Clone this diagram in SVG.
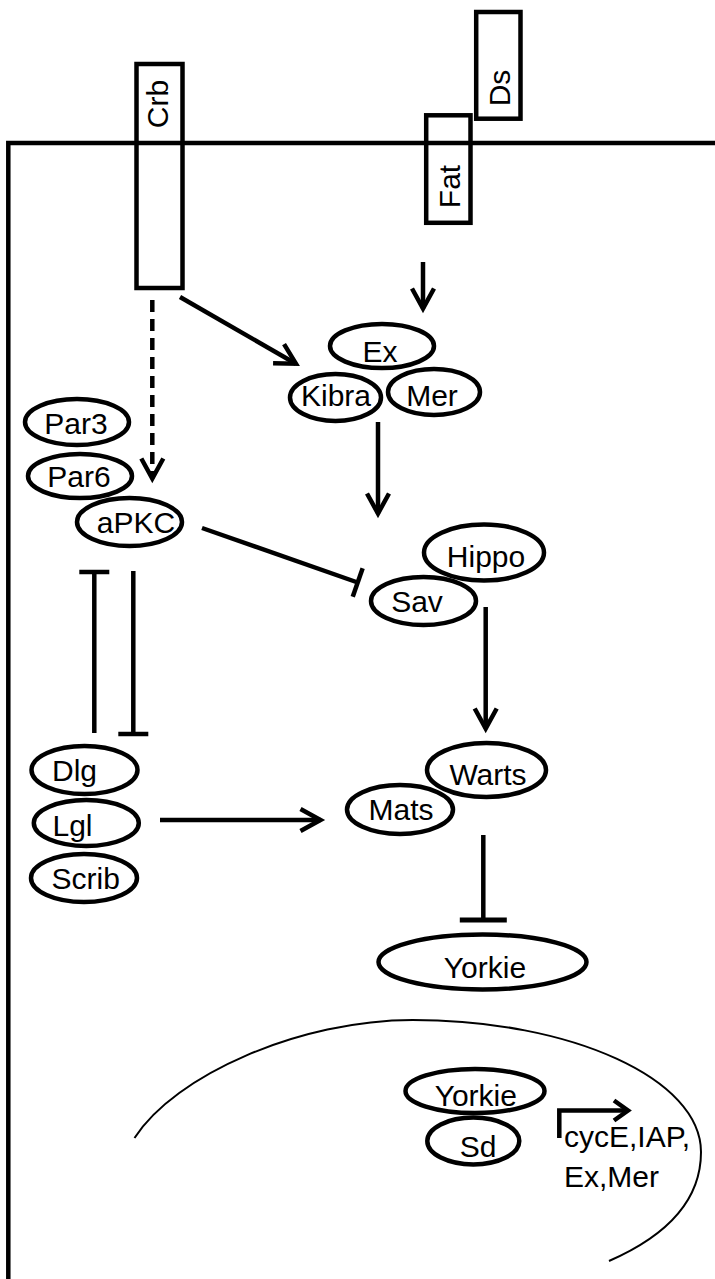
<svg xmlns="http://www.w3.org/2000/svg" width="715" height="1279" viewBox="0 0 715 1279">
<style>
  .shape { fill: none; stroke: #000; stroke-width: 4.5; }
  .node { fill: #fff; stroke: #000; stroke-width: 4.5; }
  .lbl { font-family: "Liberation Sans", Arial, sans-serif; font-size: 30px; fill: #000; text-anchor: middle; }
  .lbls { font-family: "Liberation Sans", Arial, sans-serif; font-size: 30px; fill: #000; text-anchor: start; }
  .conn { fill: none; stroke: #000; stroke-width: 4.5; }
  .act { marker-end: url(#arrow); }
  .inh { marker-end: url(#bar); }
  .dash { stroke-dasharray: 12 7; }
</style>
<defs>
  <marker id="arrow" markerUnits="userSpaceOnUse" viewBox="-26 -16 32 32" refX="0" refY="0" markerWidth="32" markerHeight="32" orient="auto">
    <path d="M -20 -11 L 0 0 L -20 11" fill="none" stroke="#000" stroke-width="4.5" stroke-dasharray="none"/>
  </marker>
  <marker id="arrowSmall" markerUnits="userSpaceOnUse" viewBox="-20 -14 26 28" refX="0" refY="0" markerWidth="26" markerHeight="28" orient="auto">
    <path d="M -14 -10 L 0 0 L -14 10" fill="none" stroke="#000" stroke-width="4.5"/>
  </marker>
  <marker id="bar" markerUnits="userSpaceOnUse" viewBox="-4 -18 8 36" refX="0" refY="0" markerWidth="8" markerHeight="36" orient="auto">
    <path d="M 0 -15 L 0 15" fill="none" stroke="#000" stroke-width="4.5"/>
  </marker>
  <marker id="barWide" markerUnits="userSpaceOnUse" viewBox="-4 -26 8 52" refX="0" refY="0" markerWidth="8" markerHeight="52" orient="auto">
    <path d="M 0 -23.5 L 0 23.5" fill="none" stroke="#000" stroke-width="5"/>
  </marker>
</defs>

<rect width="715" height="1279" fill="#fff"/>

<g id="cell">
  <path class="shape" d="M 8.3 1279 L 8.3 143 L 715 143"/>
  <path id="nucleus" d="M 134.5 1138 C 175 1075 300 1020 412.7 1020 C 571.7 1020 701 1079 701 1152 C 701 1190 680 1230 609 1261" fill="none" stroke="#000" stroke-width="2"/>
</g>

<g id="node-crb">
  <rect class="shape" x="136.5" y="64" width="46" height="224"/>
  <text class="lbl" transform="translate(168,104) rotate(-90)">Crb</text>
</g>
<g id="node-fat">
  <rect class="shape" x="426.2" y="115.3" width="44.3" height="107.5"/>
  <text class="lbl" transform="translate(459.5,186.5) rotate(-90)">Fat</text>
</g>
<g id="node-ds">
  <rect class="shape" x="476.2" y="12" width="44.3" height="106.7"/>
  <text class="lbl" transform="translate(510,88) rotate(-90)">Ds</text>
</g>

<g id="connectors">
  <line class="conn act" x1="423" y1="262" x2="423" y2="308.5"/>
  <line class="conn act" x1="180" y1="297" x2="295.9" y2="363.7"/>
  <line class="conn act dash" x1="152.3" y1="300" x2="152.3" y2="478.5"/>
  <line class="conn act" x1="378" y1="422" x2="378" y2="513.5"/>
  <line class="conn inh" x1="202" y1="528" x2="357.7" y2="582.5"/>
  <line class="conn act" x1="485.7" y1="607" x2="485.7" y2="728.5"/>
  <line class="conn inh" x1="94.3" y1="733" x2="94.3" y2="572"/>
  <line class="conn inh" x1="133.3" y1="571" x2="133.3" y2="734"/>
  <line class="conn act" x1="160" y1="820" x2="320.5" y2="820"/>
  <line class="conn" x1="483.3" y1="835" x2="483.3" y2="920" marker-end="url(#barWide)"/>
  <path class="conn" d="M 559.3 1138 L 559.3 1110.5 L 628 1110.5" marker-end="url(#arrowSmall)"/>
</g>

<g id="node-kibra">
  <ellipse class="node" cx="335.5" cy="397.5" rx="45.5" ry="23.5"/>
  <text class="lbl" x="336" y="406">Kibra</text>
</g>
<g id="node-mer">
  <ellipse class="node" cx="434" cy="392" rx="46" ry="23"/>
  <text class="lbl" x="432" y="406">Mer</text>
</g>
<g id="node-ex">
  <ellipse class="node" cx="382" cy="346" rx="52" ry="22"/>
  <text class="lbl" x="380" y="362">Ex</text>
</g>

<g id="node-par3">
  <ellipse class="node" cx="77" cy="422" rx="52" ry="23"/>
  <text class="lbl" x="76" y="434">Par3</text>
</g>
<g id="node-par6">
  <ellipse class="node" cx="80" cy="476" rx="52" ry="22"/>
  <text class="lbl" x="79" y="487">Par6</text>
</g>
<g id="node-apkc">
  <ellipse class="node" cx="129.5" cy="522" rx="52.5" ry="24"/>
  <text class="lbl" x="136" y="533">aPKC</text>
</g>

<g id="node-hippo">
  <ellipse class="node" cx="484" cy="552.5" rx="60" ry="28"/>
  <text class="lbl" x="486" y="567">Hippo</text>
</g>
<g id="node-sav">
  <ellipse class="node" cx="423.5" cy="601" rx="52.5" ry="24"/>
  <text class="lbl" x="417" y="612">Sav</text>
</g>

<g id="node-warts">
  <ellipse class="node" cx="486.5" cy="770" rx="59.5" ry="27"/>
  <text class="lbl" x="488" y="785">Warts</text>
</g>
<g id="node-mats">
  <ellipse class="node" cx="400" cy="809.5" rx="53" ry="24.5"/>
  <text class="lbl" x="401" y="820">Mats</text>
</g>

<g id="node-dlg">
  <ellipse class="node" cx="84.5" cy="770" rx="53" ry="24"/>
  <text class="lbl" x="74.5" y="781">Dlg</text>
</g>
<g id="node-lgl">
  <ellipse class="node" cx="86.3" cy="823" rx="52.5" ry="23"/>
  <text class="lbl" x="72.5" y="836">Lgl</text>
</g>
<g id="node-scrib">
  <ellipse class="node" cx="84" cy="878" rx="53" ry="24"/>
  <text class="lbl" x="85.7" y="889">Scrib</text>
</g>

<g id="node-yorkie">
  <ellipse class="node" cx="482.5" cy="962" rx="104" ry="27.5"/>
  <text class="lbl" x="485" y="978">Yorkie</text>
</g>

<g id="node-yorkie-nuclear">
  <ellipse class="node" cx="475" cy="1091" rx="69.5" ry="22"/>
  <text class="lbl" x="475.8" y="1106">Yorkie</text>
</g>
<g id="node-sd">
  <ellipse class="node" cx="473.3" cy="1141" rx="46" ry="23.5"/>
  <text class="lbl" x="478" y="1157">Sd</text>
</g>

<g id="targets">
  <text class="lbls" x="564" y="1147">cycE,IAP,</text>
  <text class="lbls" x="564" y="1187">Ex,Mer</text>
</g>
</svg>
